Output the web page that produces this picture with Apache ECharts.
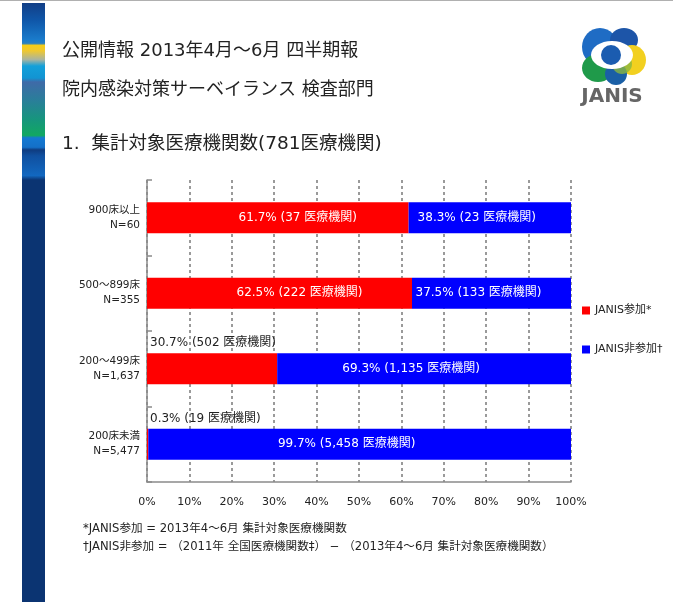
<!DOCTYPE html>
<html><head><meta charset="utf-8">
<script src="https://cdn.jsdelivr.net/npm/echarts@6/dist/echarts.min.js"></script>
<style>html,body{margin:0;padding:0;background:#fff}#c{width:673px;height:602px}</style>
</head><body><div id="c"></div>
<script>
const categories = ['900床以上\nN=60', '500〜899床\nN=355', '200〜499床\nN=1,637', '200床未満\nN=5,477'];
const janisPct = [61.7, 62.5, 30.7, 0.3];
const janisCount = [37, 222, 502, 19];
const nonPct = [38.3, 37.5, 69.3, 99.7];
const nonCount = [23, 133, 1135, 5458];
const xTicks = [0, 10, 20, 30, 40, 50, 60, 70, 80, 90, 100];
const seriesNames = ['JANIS参加*', 'JANIS非参加†'];

const FONT = '"DejaVu Sans", "Noto Sans CJK JP", sans-serif';
const fmt = (p, n) => p.toFixed(1) + '% (' + n.toLocaleString('en-US') + ' 医療機関)';

const chart = echarts.init(document.getElementById('c'), null, {renderer: 'canvas'});

const redData = janisPct.map((p, i) => {
  const small = p < 50 && p < nonPct[i];
  return {
    value: p,
    label: small ? {
      show: true, position: [3, -10], align: 'left', verticalAlign: 'middle',
      color: '#222', fontSize: 12, fontFamily: FONT,
      formatter: () => fmt(p, janisCount[i])
    } : {
      show: true, position: 'inside', offset: [20, 0],
      color: '#fff', fontSize: 12, fontFamily: FONT,
      formatter: () => fmt(p, janisCount[i])
    }
  };
});
const blueData = nonPct.map((p, i) => ({
  value: p,
  label: {
    show: true, position: 'inside', offset: [-13, 0],
    color: '#fff', fontSize: 12, fontFamily: FONT,
    formatter: () => fmt(p, nonCount[i])
  }
}));

const stripeStops = [
  [0, '#123e86'], [0.096, '#0f56a8'], [0.21, '#1a7ccc'], [0.228, '#2a80c0'],
  [0.24, '#f6cd18'], [0.27, '#efc830'], [0.32, '#a9b4a0'], [0.356, '#13a0da'],
  [0.424, '#1294d2'], [0.446, '#3f6aa8'], [0.548, '#2a7e9a'], [0.661, '#16967c'],
  [0.748, '#12a862'], [0.762, '#1479d2'], [0.815, '#1470c8'], [0.83, '#0f3c80'],
  [0.864, '#1050a0'], [0.975, '#1268c0'], [1, '#0b3472']
];

chart.setOption({
  animation: false,
  backgroundColor: '#fff',
  textStyle: {fontFamily: FONT},
  grid: {left: 147, right: 102, top: 180, bottom: 120, containLabel: false},
  legend: {
    orient: 'vertical', left: 582, top: 305, itemWidth: 8, itemHeight: 8, itemGap: 28,
    icon: 'rect', padding: 0,
    textStyle: {fontSize: 11, color: '#222', fontFamily: FONT},
    data: seriesNames
  },
  xAxis: {
    type: 'value', min: xTicks[0], max: xTicks[xTicks.length - 1], interval: 10,
    axisLine: {show: true, lineStyle: {color: '#8a8a8a', width: 1.5}},
    axisTick: {show: false},
    axisLabel: {formatter: '{value}%', fontSize: 11, color: '#222', margin: 15, fontFamily: FONT},
    splitLine: {show: true, lineStyle: {color: '#7a7a7a', width: 1.5, type: [3, 3]}}
  },
  yAxis: {
    type: 'category', inverse: true, data: categories,
    axisLine: {show: true, lineStyle: {color: '#8a8a8a', width: 1.5}},
    axisTick: {show: true, inside: true, length: 5, lineStyle: {color: '#8a8a8a', width: 1.5}},
    axisLabel: {fontSize: 10.5, color: '#222', margin: 7, align: 'right', lineHeight: 15, fontFamily: FONT},
    splitLine: {show: false}
  },
  series: [
    {name: seriesNames[0], type: 'bar', stack: 't', barWidth: 31, itemStyle: {color: '#ff0000'}, data: redData},
    {name: seriesNames[1], type: 'bar', stack: 't', barWidth: 31, itemStyle: {color: '#0000ff'}, data: blueData}
  ],
  graphic: [
    {type: 'rect', shape: {x: 0, y: 0, width: 673, height: 1}, style: {fill: '#b0b0b0'}},
    {type: 'rect', shape: {x: 22, y: 3, width: 23, height: 177},
      style: {fill: new echarts.graphic.LinearGradient(0, 0, 0, 1, stripeStops.map(s => ({offset: s[0], color: s[1]})))}},
    {type: 'rect', shape: {x: 22, y: 180, width: 23, height: 422}, style: {fill: '#0b3472'}},
    // header texts
    {type: 'text', left: 62, top: 42, style: {text: '公開情報 2013年4月〜6月 四半期報', font: '18px ' + FONT, fill: '#222'}},
    {type: 'text', left: 62, top: 81, style: {text: '院内感染対策サーベイランス 検査部門', font: '18px ' + FONT, fill: '#222'}},
    {type: 'text', left: 62, top: 135, style: {text: '1.  集計対象医療機関数(781医療機関)', font: '18.5px ' + FONT, fill: '#222'}},
    // footnotes
    {type: 'text', left: 83, top: 523, style: {text: '*JANIS参加 = 2013年4〜6月 集計対象医療機関数', font: '11.6px ' + FONT, fill: '#222'}},
    {type: 'text', left: 83, top: 541, style: {text: '†JANIS非参加 = （2011年 全国医療機関数‡） − （2013年4〜6月 集計対象医療機関数）', font: '11.6px ' + FONT, fill: '#222'}},
    // logo
    {type: 'group', children: [
      {type: 'ellipse', shape: {cx: 600, cy: 47, rx: 18, ry: 19}, style: {fill: '#1f6cc4'}},
      {type: 'ellipse', shape: {cx: 624, cy: 40, rx: 14, ry: 12}, style: {fill: '#1d55a8'}},
      {type: 'ellipse', shape: {cx: 632, cy: 60, rx: 14, ry: 15}, style: {fill: '#f2d020'}},
      {type: 'ellipse', shape: {cx: 598, cy: 68, rx: 16, ry: 14}, style: {fill: '#1f9a4a'}},
      {type: 'ellipse', shape: {cx: 616, cy: 74, rx: 11, ry: 11}, style: {fill: '#1a5fa6'}},
      {type: 'ellipse', shape: {cx: 622, cy: 64, rx: 10, ry: 10}, style: {fill: '#8ab640', opacity: 0.8}},
      {type: 'ellipse', shape: {cx: 612, cy: 55, rx: 21, ry: 14}, style: {fill: '#ffffff'}},
      {type: 'circle', shape: {cx: 611, cy: 55, r: 10}, style: {fill: '#1b5cb0'}},
      {type: 'text', x: 612, y: 97, style: {text: 'JANIS', font: 'bold 20px ' + FONT, fill: '#666', align: 'center', verticalAlign: 'middle'}}
    ]}
  ]
});
</script>
</body></html>
